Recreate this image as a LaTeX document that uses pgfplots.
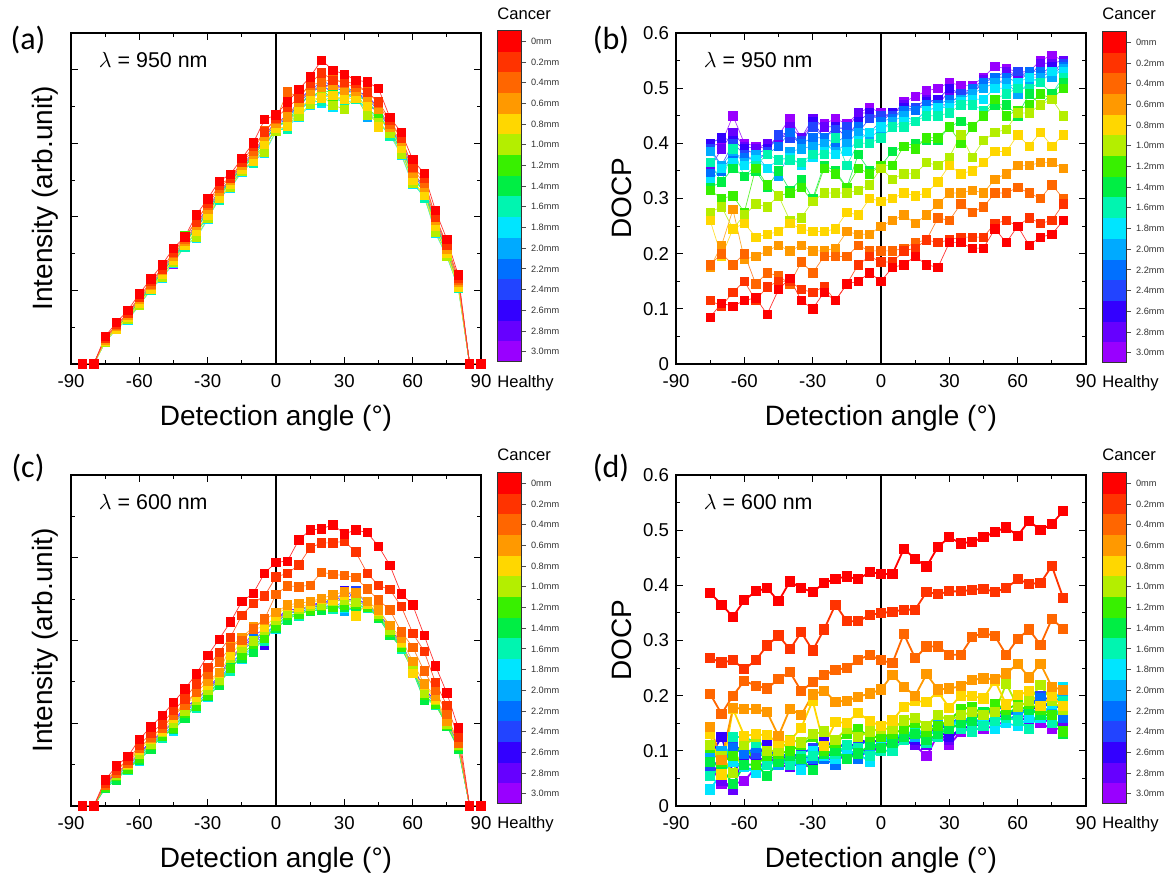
\documentclass[border=0pt]{standalone}
\usepackage{pgfplots}
\pgfplotsset{compat=1.18}
\usepackage{pgfplotstable}
\usepackage{fontspec}
\setmainfont{Liberation Sans}
\newfontfamily\calib{Carlito}

\definecolor{c0}{HTML}{FF0000}
\definecolor{c1}{HTML}{FF3300}
\definecolor{c2}{HTML}{FF6600}
\definecolor{c3}{HTML}{FF9900}
\definecolor{c4}{HTML}{FFD700}
\definecolor{c5}{HTML}{B4EE00}
\definecolor{c6}{HTML}{38F000}
\definecolor{c7}{HTML}{00EE44}
\definecolor{c8}{HTML}{00F5B0}
\definecolor{c9}{HTML}{00E5FF}
\definecolor{c10}{HTML}{00AAFF}
\definecolor{c11}{HTML}{0070FF}
\definecolor{c12}{HTML}{2244FF}
\definecolor{c13}{HTML}{3300FF}
\definecolor{c14}{HTML}{6600FF}
\definecolor{c15}{HTML}{9900FF}

% Panel (a): lambda = 950 nm, intensity
\pgfplotstableread{
x s0 s1 s2 s3 s4 s5 s6 s7 s8 s9 s10 s11 s12 s13 s14 s15
-85 0 0 0 0 0 0 0 0 0 0 0 0 0 0 0 0
-80 0 0 0 0 0 0 0 0 0 0 0 0 0 0 0 0
-75 .75 .70 .69 .66 .62 .59 .62 .64 .60 .59 .62 .65 .65 .67 .65 .66
-70 1.13 1.08 1.05 1.02 .96 .97 1.01 .99 .95 .96 1.00 1.03 1.01 1.02 1.04 1.02
-65 1.46 1.38 1.39 1.34 1.28 1.21 1.26 1.31 1.27 1.20 1.24 1.30 1.33 1.35 1.29 1.35
-60 1.91 1.82 1.81 1.75 1.65 1.61 1.67 1.70 1.62 1.59 1.65 1.72 1.73 1.76 1.72 1.75
-55 2.31 2.24 2.18 2.14 2.03 2.05 2.11 2.08 2.00 2.03 2.09 2.15 2.11 2.14 2.17 2.12
-50 2.70 2.59 2.61 2.54 2.45 2.35 2.41 2.50 2.43 2.33 2.40 2.48 2.53 2.56 2.46 2.56
-45 3.15 3.04 3.02 2.94 2.82 2.76 2.84 2.88 2.78 2.74 2.82 2.90 2.92 2.96 2.90 2.71
-40 3.46 3.47 3.40 3.34 3.22 3.24 3.50 3.27 3.19 3.22 3.29 3.36 3.31 3.34 3.38 3.33
-35 4.05 3.87 3.90 3.78 3.62 3.45 3.56 3.70 3.59 3.42 3.53 3.67 3.76 3.81 3.64 3.81
-30 4.49 4.36 4.33 4.22 4.04 3.96 4.07 4.13 3.99 3.93 4.04 4.16 4.19 4.25 4.16 4.22
-25 4.97 4.87 4.77 4.69 4.51 4.54 4.64 4.59 4.46 4.51 4.61 4.72 4.64 4.69 4.74 4.67
-20 5.16 5.05 5.07 5.00 4.90 4.80 4.87 4.95 4.88 4.78 4.85 4.93 4.98 5.02 4.92 5.02
-15 5.59 5.49 5.48 5.40 5.29 5.24 5.31 5.35 5.25 5.22 5.29 5.37 5.38 5.42 5.37 5.40
-10 6.01 5.91 5.80 5.71 5.52 5.55 5.66 5.60 5.47 5.52 5.63 5.74 5.66 5.71 5.77 5.69
-5 6.65 6.31 6.34 6.20 5.98 5.77 5.91 6.09 5.95 5.73 5.87 6.05 6.16 6.23 6.02 6.23
0 6.77 6.68 6.65 6.56 6.41 6.34 6.44 6.49 6.37 6.32 6.41 6.51 6.53 6.58 6.51 6.56
5 7.13 6.98 7.40 6.72 6.46 6.50 6.64 6.57 6.38 6.46 6.61 6.75 6.64 6.72 6.79 6.68
10 7.46 7.22 7.26 7.13 6.94 6.75 6.88 7.04 6.91 6.72 6.85 7.00 7.10 7.16 6.97 7.16
15 7.81 7.63 7.59 7.43 7.19 7.07 7.23 7.31 7.11 7.03 7.19 7.35 7.39 7.47 7.35 7.43
20 8.26 7.92 7.65 7.53 7.24 7.29 7.45 7.37 7.16 7.08 7.41 7.57 7.72 7.53 7.61 7.49
25 7.99 7.72 7.76 7.58 7.31 7.04 7.22 7.45 7.26 6.99 7.17 7.40 7.54 7.63 7.35 7.63
30 7.88 7.67 7.63 7.45 7.19 6.93 7.23 7.32 7.10 7.67 7.19 7.37 7.41 7.50 7.37 7.45
35 7.72 7.63 7.52 7.43 7.24 7.27 7.38 7.32 7.19 7.24 7.35 7.46 7.38 7.43 7.49 7.41
40 7.67 7.38 7.43 7.26 7.01 6.76 6.93 7.14 6.97 6.89 6.72 7.09 7.22 7.30 7.05 7.30
45 7.49 7.13 7.09 6.93 6.45 6.57 6.73 6.81 6.61 6.53 6.69 6.85 6.89 6.97 6.85 6.93
50 6.70 6.63 6.52 6.43 6.66 6.27 6.38 6.32 6.19 6.24 6.35 6.46 6.38 6.43 6.49 6.41
55 6.30 6.14 6.17 6.05 5.88 5.71 5.82 5.97 5.85 5.68 5.79 5.94 6.02 6.08 5.91 6.08
60 5.56 5.36 5.32 5.20 5.01 4.91 5.04 5.10 4.95 4.88 5.01 5.14 5.17 5.23 5.14 5.20
65 5.18 5.04 4.91 4.81 4.59 4.62 4.75 4.68 4.52 4.59 4.72 4.84 4.75 4.81 4.88 4.78
70 4.17 3.99 4.02 3.91 3.74 3.58 3.69 3.83 3.72 3.55 3.66 3.80 3.88 3.94 3.77 3.94
75 3.39 3.24 3.22 3.13 3.01 2.94 3.03 3.07 2.96 2.92 3.01 3.09 3.11 3.15 3.09 3.13
80 2.42 2.34 2.27 2.22 2.09 2.11 2.18 2.15 2.06 2.09 2.16 2.24 2.18 2.22 2.25 2.20
85 0 0 0 0 0 0 0 0 0 0 0 0 0 0 0 0
90 0 0 0 0 0 0 0 0 0 0 0 0 0 0 0 0
}\tabA

% Panel (c): lambda = 600 nm, intensity
\pgfplotstableread{
x s0 s1 s2 s3 s4 s5 s6 s7 s8 s9 s10 s11 s12 s13 s14 s15
-85 0 0 0 0 0 0 0 0 0 0 0 0 0 0 0 0
-80 0 0 0 0 0 0 0 0 0 0 0 0 0 0 0 0
-75 .63 .55 .51 .58 .55 .50 .45 .43 .47 .42 .46 .48 .49 .51 .50 .52
-70 .97 .87 .79 .91 .90 .75 .72 .63 .70 .68 .66 .79 .73 .84 .81 .77
-65 1.20 1.11 1.03 1.10 1.02 .99 .90 .91 .87 .92 .95 .91 .99 .97 1.01 .98
-60 1.61 1.47 1.39 1.41 1.35 1.25 1.15 1.11 1.19 1.09 1.17 1.21 1.23 1.27 1.25 1.29
-55 1.91 1.75 1.67 1.64 1.62 1.49 1.46 1.38 1.45 1.43 1.41 1.53 1.48 1.57 1.54 1.51
-50 2.19 1.99 1.87 1.90 1.81 1.78 1.68 1.69 1.65 1.71 1.74 1.69 1.78 1.75 1.80 1.77
-45 2.50 2.31 2.19 2.21 2.13 2.01 1.89 1.85 1.94 1.82 1.92 1.97 1.99 2.04 2.01 2.06
-40 2.83 2.59 2.43 2.50 2.48 2.29 2.24 2.12 2.21 2.19 2.17 2.33 2.26 2.41 2.36 2.31
-35 3.19 2.95 2.75 2.75 2.62 2.57 2.41 2.44 2.37 2.46 2.50 2.44 2.57 2.53 2.59 2.55
-30 3.64 3.35 3.19 3.01 2.93 2.81 2.69 2.65 2.74 2.62 2.72 2.77 2.79 2.84 2.81 2.86
-25 4.03 3.72 3.48 3.23 3.21 3.05 3.01 2.91 2.99 2.97 2.95 3.09 3.03 3.15 3.11 3.07
-20 4.45 4.08 3.84 3.85 3.64 3.57 3.33 3.36 3.26 3.40 3.47 3.36 3.57 3.50 3.61 3.54
-15 4.94 4.61 4.01 4.07 3.97 3.81 3.65 3.58 3.71 3.55 3.68 3.74 3.78 3.84 3.81 3.87
-10 5.14 4.90 4.28 4.33 4.29 3.99 3.91 3.73 3.88 3.84 3.80 4.06 3.95 4.18 4.10 4.03
-5 5.63 5.08 4.52 4.50 4.32 4.26 4.05 4.08 3.99 4.11 4.17 4.08 4.26 3.88 4.29 4.23
0 5.89 5.54 5.12 4.68 4.60 4.48 4.35 4.30 4.40 4.28 4.38 4.43 4.45 4.50 4.48 4.53
5 5.92 5.62 5.32 4.86 4.83 4.65 4.61 4.50 4.59 4.56 4.54 4.70 4.63 4.77 4.72 4.68
10 6.43 5.83 5.30 4.90 4.80 4.76 4.64 4.66 4.60 4.67 4.71 4.66 4.76 4.73 4.78 4.74
15 6.67 6.24 5.34 4.94 4.89 4.82 4.74 4.71 4.77 4.70 4.76 4.79 4.80 4.83 4.82 4.85
20 6.70 6.36 5.65 5.02 5.00 4.86 4.82 4.74 4.81 4.79 4.77 4.89 4.84 4.95 4.91 4.88
25 6.80 6.36 5.60 5.10 4.98 4.94 4.80 4.82 4.76 4.84 4.88 4.82 5.08 4.90 4.96 4.92
30 6.58 6.40 5.57 5.18 5.10 4.98 4.85 4.80 4.90 4.78 4.70 4.93 4.95 5.20 4.98 5.03
35 6.67 6.14 5.52 5.15 4.60 4.93 4.88 4.75 4.85 4.83 4.80 4.98 5.20 5.05 5.00 4.95
40 6.61 5.63 5.25 4.95 4.89 4.87 4.80 4.81 4.78 4.82 4.84 4.81 4.87 4.85 4.88 4.86
45 6.28 5.33 4.98 4.74 4.70 4.64 4.58 4.55 4.60 4.54 4.59 4.61 4.63 4.65 4.64 4.66
50 5.82 5.23 4.74 4.37 4.36 4.24 4.21 4.13 4.19 4.18 4.16 4.27 4.22 4.31 4.28 4.25
55 5.13 4.82 4.21 4.05 3.96 3.93 3.83 3.84 3.80 3.86 3.89 3.84 3.93 3.90 3.95 3.92
60 4.86 4.18 3.84 3.49 3.20 3.37 3.29 3.26 3.32 3.25 3.31 3.35 3.35 3.38 3.37 3.40
65 4.13 3.74 3.27 2.95 2.93 2.73 2.68 2.55 2.65 2.63 2.60 2.78 2.70 2.85 2.80 2.75
70 3.39 2.99 2.79 2.65 2.58 2.55 2.46 2.48 2.44 2.49 2.51 2.48 2.55 2.53 2.56 2.54
75 2.73 2.43 2.23 2.06 2.04 1.99 1.95 1.93 1.97 1.93 1.96 1.98 1.99 2.00 1.99 2.01
80 1.89 1.67 1.51 1.58 1.56 1.46 1.44 1.38 1.43 1.41 1.40 1.49 1.45 1.53 1.50 1.48
85 0 0 0 0 0 0 0 0 0 0 0 0 0 0 0 0
90 0 0 0 0 0 0 0 0 0 0 0 0 0 0 0 0
}\tabC

% Panel (b): lambda = 950 nm, DOCP (one row per series)
\pgfplotstableread{
name -75 -70 -65 -60 -55 -50 -45 -40 -35 -30 -25 -20 -15 -10 -5 0 5 10 15 20 25 30 35 40 45 50 55 60 65 70 75 80
s0 .085 .11 .105 .115 .12 .09 .135 .155 .115 .10 .13 .115 .145 .15 .165 .15 .175 .18 .195 .18 .175 .22 .22 .21 .21 .245 .22 .25 .215 .23 .235 .26
s1 .115 .105 .13 .15 .115 .14 .15 .15 .135 .13 .14 .115 .145 .18 .195 .185 .185 .205 .21 .225 .22 .225 .23 .23 .23 .255 .26 .25 .265 .255 .26 .29
s2 .18 .20 .18 .20 .145 .165 .16 .145 .185 .165 .195 .195 .195 .215 .205 .205 .205 .21 .22 .225 .265 .26 .29 .275 .285 .31 .31 .32 .31 .30 .325 .30
s3 .175 .215 .28 .19 .195 .205 .215 .205 .215 .205 .205 .21 .24 .235 .235 .25 .26 .27 .255 .27 .29 .31 .31 .315 .31 .335 .345 .36 .36 .365 .365 .355
s4 .26 .195 .245 .255 .23 .235 .24 .255 .245 .24 .24 .245 .275 .27 .30 .295 .30 .31 .305 .31 .33 .36 .345 .35 .365 .385 .385 .415 .395 .42 .395 .415
s5 .275 .285 .245 .27 .29 .285 .305 .26 .265 .295 .31 .31 .31 .315 .325 .355 .335 .345 .345 .365 .36 .375 .415 .375 .405 .42 .425 .455 .455 .47 .48 .45
s6 .315 .30 .305 .275 .355 .325 .305 .31 .32 .295 .355 .345 .32 .355 .345 .36 .36 .395 .39 .41 .41 .43 .40 .43 .45 .48 .45 .46 .47 .49 .48 .50
s7 .32 .33 .355 .34 .35 .32 .35 .315 .335 .30 .36 .35 .32 .38 .35 .36 .385 .395 .40 .405 .405 .43 .44 .43 .45 .47 .47 .45 .49 .47 .49 .51
s8 .365 .33 .39 .34 .36 .38 .37 .37 .365 .38 .38 .41 .36 .40 .40 .41 .43 .43 .44 .45 .45 .455 .47 .47 .46 .48 .49 .50 .50 .51 .49 .52
s9 .33 .355 .365 .36 .37 .355 .37 .375 .36 .375 .385 .38 .385 .405 .42 .43 .43 .44 .44 .46 .465 .465 .475 .48 .48 .50 .50 .51 .52 .51 .53 .53
s10 .385 .36 .385 .365 .38 .355 .34 .385 .39 .395 .40 .385 .40 .42 .41 .425 .44 .45 .44 .46 .465 .47 .48 .49 .50 .51 .51 .49 .51 .52 .52 .535
s11 .345 .35 .38 .375 .375 .38 .395 .42 .40 .41 .41 .40 .415 .43 .42 .44 .445 .46 .46 .47 .47 .48 .48 .50 .51 .52 .52 .51 .53 .53 .525 .54
s12 .39 .36 .40 .38 .365 .385 .415 .41 .405 .43 .41 .425 .43 .42 .445 .45 .45 .46 .465 .47 .47 .47 .49 .495 .51 .51 .515 .53 .52 .52 .53 .545
s13 .40 .41 .405 .39 .38 .39 .415 .42 .395 .44 .41 .43 .41 .44 .455 .445 .455 .465 .46 .475 .48 .50 .49 .49 .51 .52 .52 .53 .525 .525 .54 .53
s14 .355 .39 .42 .395 .39 .40 .40 .43 .41 .445 .43 .43 .425 .455 .455 .44 .455 .47 .465 .48 .47 .495 .49 .50 .515 .52 .53 .525 .52 .545 .545 .55
s15 .395 .40 .45 .40 .395 .39 .415 .445 .41 .435 .435 .445 .435 .455 .465 .455 .45 .475 .485 .495 .50 .51 .505 .505 .52 .54 .535 .53 .53 .55 .56 .55
}\rawB
\pgfplotstabletranspose[colnames from=name,input colnames to=x]{\tabB}{\rawB}

% Panel (d): lambda = 600 nm, DOCP (one row per series)
\pgfplotstableread{
name -75 -70 -65 -60 -55 -50 -45 -40 -35 -30 -25 -20 -15 -10 -5 0 5 10 15 20 25 30 35 40 45 50 55 60 65 70 75 80
s0 .386 .365 .343 .373 .389 .395 .371 .407 .395 .388 .404 .412 .416 .411 .424 .421 .420 .466 .448 .434 .470 .487 .476 .479 .487 .497 .505 .490 .517 .500 .511 .535
s1 .268 .260 .264 .248 .264 .291 .309 .284 .315 .282 .320 .365 .335 .335 .346 .350 .352 .356 .356 .388 .384 .389 .389 .392 .394 .388 .395 .411 .403 .404 .435 .377
s2 .203 .167 .200 .227 .218 .213 .230 .243 .208 .225 .237 .247 .250 .265 .274 .264 .259 .312 .268 .289 .289 .274 .274 .306 .314 .308 .274 .303 .320 .292 .339 .321
s3 .143 .083 .178 .176 .176 .170 .127 .176 .165 .202 .209 .189 .191 .198 .204 .211 .238 .216 .200 .239 .211 .213 .217 .229 .231 .230 .240 .258 .233 .258 .216 .210
s4 .130 .057 .176 .127 .130 .128 .115 .118 .142 .191 .109 .152 .151 .169 .154 .145 .155 .180 .190 .189 .207 .178 .200 .199 .195 .227 .184 .201 .208 .181 .199 .181
s5 .11 .09 .06 .11 .125 .10 .10 .12 .115 .13 .135 .12 .14 .125 .135 .14 .14 .155 .16 .145 .165 .155 .165 .17 .165 .17 .222 .18 .19 .22 .19 .175
s6 .105 .08 .09 .115 .075 .09 .095 .10 .11 .125 .10 .115 .13 .14 .125 .125 .13 .14 .15 .135 .145 .155 .175 .18 .165 .185 .175 .185 .185 .175 .165 .135
s7 .08 .07 .04 .075 .075 .055 .08 .09 .085 .065 .095 .10 .085 .095 .11 .105 .115 .125 .13 .12 .13 .14 .15 .155 .17 .175 .165 .18 .175 .165 .165 .13
s8 .055 .07 .125 .125 .115 .075 .085 .075 .09 .09 .10 .095 .11 .105 .09 .10 .10 .12 .135 .115 .125 .15 .14 .135 .145 .155 .16 .155 .14 .17 .15 .19
s9 .03 .06 .08 .07 .06 .075 .08 .09 .065 .10 .09 .085 .10 .095 .08 .11 .13 .125 .14 .13 .135 .14 .16 .14 .16 .14 .15 .145 .16 .16 .185 .215
s10 .09 .10 .08 .07 .065 .08 .075 .085 .07 .095 .10 .09 .11 .10 .095 .12 .125 .13 .125 .14 .15 .145 .16 .155 .155 .16 .155 .165 .175 .17 .18 .205
s11 .10 .08 .105 .095 .105 .10 .09 .095 .09 .085 .085 .075 .105 .085 .105 .115 .12 .125 .13 .125 .14 .15 .16 .15 .16 .185 .17 .165 .18 .195 .175 .16
s12 .07 .085 .11 .10 .095 .09 .085 .08 .095 .105 .105 .12 .10 .11 .12 .13 .125 .125 .135 .13 .145 .14 .15 .16 .17 .17 .165 .175 .18 .20 .19 .17
s13 .09 .125 .06 .09 .09 .11 .08 .095 .08 .08 .12 .105 .10 .12 .115 .12 .125 .125 .12 .13 .135 .125 .14 .145 .15 .16 .165 .17 .175 .18 .185 .195
s14 .085 .045 .03 .095 .08 .09 .075 .07 .08 .085 .09 .095 .09 .105 .095 .11 .11 .12 .11 .11 .13 .12 .14 .145 .15 .155 .16 .16 .155 .16 .15 .145
s15 .075 .04 .04 .045 .07 .08 .08 .075 .075 .07 .09 .08 .095 .09 .10 .105 .12 .12 .11 .09 .13 .11 .135 .14 .14 .145 .155 .165 .16 .15 .14 .14
}\rawD
\pgfplotstabletranspose[colnames from=name,input colnames to=x]{\tabD}{\rawD}

\pgfplotsset{
  panel/.style={
    scale only axis, width=205pt, height=165.5pt,
    xmin=-90, xmax=90,
    xtick={-90,-60,-30,0,30,60,90},
    xticklabels={-90,-60,-30,0,30,60,90},
    minor xtick={-75,-45,-15,15,45,75},
    tick align=inside,
    major tick length=3.5pt, minor tick length=2pt,
    tick style={black, line width=0.5pt},
    axis line style={black, line width=0.6pt},
    ticklabel style={font=\fontsize{9.3}{11}\selectfont},
    xticklabel style={yshift=-1.5pt},
    xlabel={Detection angle (°)},
    xlabel style={at={(axis description cs:0.5,-0.163)}, anchor=center, font=\fontsize{14}{16}\selectfont},
    ylabel style={anchor=center, font=\fontsize{14}{16}\selectfont},
  },
  intens/.style={
    ymin=0, ymax=#1,
    ytick={2,4,6,8}, minor ytick={1,3,5,7}, yticklabel=\empty,
    ylabel={Intensity (arb.unit)},
    ylabel style={at={(axis description cs:-0.062,0.5)}},
  },
  docp/.style={
    ymin=0, ymax=0.6,
    ytick={0,0.1,0.2,0.3,0.4,0.5,0.6},
    yticklabels={0,0.1,0.2,0.3,0.4,0.5,0.6},
    minor ytick={0.05,0.15,0.25,0.35,0.45,0.55},
    ylabel={DOCP},
    ylabel style={at={(axis description cs:-0.132,0.5)}},
  },
  cbar/.style={
    scale only axis, width=12pt, height=165.5pt,
    xmin=0, xmax=1, ymin=0, ymax=16,
    xtick=\empty,
    ytick={0.5,1.5,2.5,3.5,4.5,5.5,6.5,7.5,8.5,9.5,10.5,11.5,12.5,13.5,14.5,15.5},
    yticklabels={3.0mm,2.8mm,2.6mm,2.4mm,2.2mm,2.0mm,1.8mm,1.6mm,1.4mm,1.2mm,1.0mm,0.8mm,0.6mm,0.4mm,0.2mm,0mm},
    ytick pos=right, ytick align=outside,
    major tick length=2.5pt,
    tick style={black!70, line width=0.4pt},
    yticklabel style={font=\fontsize{4.6}{5}\selectfont, text=black!80, xshift=-1pt},
    axis line style={black!80, line width=0.5pt},
    axis on top,
  },
}

\newcommand{\cbarfills}{%
  \addplot[draw=none, fill=c0] coordinates {(0,16) (1,16)} \closedcycle;
  \addplot[draw=none, fill=c1] coordinates {(0,15) (1,15)} \closedcycle;
  \addplot[draw=none, fill=c2] coordinates {(0,14) (1,14)} \closedcycle;
  \addplot[draw=none, fill=c3] coordinates {(0,13) (1,13)} \closedcycle;
  \addplot[draw=none, fill=c4] coordinates {(0,12) (1,12)} \closedcycle;
  \addplot[draw=none, fill=c5] coordinates {(0,11) (1,11)} \closedcycle;
  \addplot[draw=none, fill=c6] coordinates {(0,10) (1,10)} \closedcycle;
  \addplot[draw=none, fill=c7] coordinates {(0,9) (1,9)} \closedcycle;
  \addplot[draw=none, fill=c8] coordinates {(0,8) (1,8)} \closedcycle;
  \addplot[draw=none, fill=c9] coordinates {(0,7) (1,7)} \closedcycle;
  \addplot[draw=none, fill=c10] coordinates {(0,6) (1,6)} \closedcycle;
  \addplot[draw=none, fill=c11] coordinates {(0,5) (1,5)} \closedcycle;
  \addplot[draw=none, fill=c12] coordinates {(0,4) (1,4)} \closedcycle;
  \addplot[draw=none, fill=c13] coordinates {(0,3) (1,3)} \closedcycle;
  \addplot[draw=none, fill=c14] coordinates {(0,2) (1,2)} \closedcycle;
  \addplot[draw=none, fill=c15] coordinates {(0,1) (1,1)} \closedcycle;
}

\begin{document}
\begin{tikzpicture}
\useasboundingbox (0,0) rectangle (586pt,441pt);

% ---------- (a)
\begin{axis}[panel, intens=9, at={(35.5pt,259pt)}, anchor=south west]
\pgfplotsinvokeforeach{15,14,...,0}{
  \addplot[color=c#1!80, line width=0.35pt, mark=square*, mark size=2.1pt,
    mark options={fill=c#1, draw=c#1}] table[x=x, y=s#1] {\tabA};
}
\draw[black, line width=0.6pt] (axis cs:0,0) -- (axis cs:0,9);
\node[anchor=west, font=\fontsize{10.7}{12}\selectfont] at (rel axis cs:0.051,0.918) {$\lambda$ = 950 nm};
\end{axis}
\begin{axis}[cbar, at={(248.5pt,260pt)}, anchor=south west]
\cbarfills
\end{axis}

% ---------- (b)
\begin{axis}[panel, docp, at={(338pt,259pt)}, anchor=south west]
\pgfplotsinvokeforeach{15,14,...,0}{
  \addplot[color=c#1!80, line width=0.35pt, mark=square*, mark size=2.1pt,
    mark options={fill=c#1, draw=c#1}] table[x=x, y=s#1] {\tabB};
}
\draw[black, line width=0.6pt] (axis cs:0,0) -- (axis cs:0,0.6);
\node[anchor=west, font=\fontsize{10.7}{12}\selectfont] at (rel axis cs:0.051,0.918) {$\lambda$ = 950 nm};
\end{axis}
\begin{axis}[cbar, at={(551pt,259.5pt)}, anchor=south west]
\cbarfills
\end{axis}

% ---------- (c)
\begin{axis}[panel, intens=8, at={(35.5pt,38pt)}, anchor=south west]
\pgfplotsinvokeforeach{15,14,...,0}{
  \addplot[color=c#1!80, line width=0.35pt, mark=square*, mark size=2.1pt,
    mark options={fill=c#1, draw=c#1}] table[x=x, y=s#1] {\tabC};
}
\draw[black, line width=0.6pt] (axis cs:0,0) -- (axis cs:0,8);
\node[anchor=west, font=\fontsize{10.7}{12}\selectfont] at (rel axis cs:0.051,0.918) {$\lambda$ = 600 nm};
\end{axis}
\begin{axis}[cbar, at={(248.5pt,39pt)}, anchor=south west]
\cbarfills
\end{axis}

% ---------- (d)
\begin{axis}[panel, docp, at={(338pt,38pt)}, anchor=south west]
\pgfplotsinvokeforeach{15,14,...,0}{
  \addplot[color=c#1, line width=0.9pt, mark=square*, mark size=2.1pt,
    mark options={fill=c#1, draw=c#1}] table[x=x, y=s#1] {\tabD};
}
\draw[black, line width=0.6pt] (axis cs:0,0) -- (axis cs:0,0.6);
\node[anchor=west, font=\fontsize{10.7}{12}\selectfont] at (rel axis cs:0.051,0.918) {$\lambda$ = 600 nm};
\end{axis}
\begin{axis}[cbar, at={(551pt,39pt)}, anchor=south west]
\cbarfills
\end{axis}

% panel letters and colorbar captions
\node[font=\calib\fontsize{16}{18}\selectfont] at (14pt,421pt) {(a)};
\node[font=\calib\fontsize{16}{18}\selectfont] at (305.5pt,421pt) {(b)};
\node[font=\calib\fontsize{16}{18}\selectfont] at (14pt,207pt) {(c)};
\node[font=\calib\fontsize{16}{18}\selectfont] at (305.5pt,207pt) {(d)};

\foreach \cx in {248.5pt,551pt}{
  \node[anchor=base west, inner sep=0, font=\fontsize{8.3}{10}\selectfont] at (\cx,431pt) {Cancer};
  \node[anchor=base west, inner sep=0, font=\fontsize{8.3}{10}\selectfont] at (\cx,247pt) {Healthy};
  \node[anchor=base west, inner sep=0, font=\fontsize{8.3}{10}\selectfont] at (\cx,210.5pt) {Cancer};
  \node[anchor=base west, inner sep=0, font=\fontsize{8.3}{10}\selectfont] at (\cx,26.5pt) {Healthy};
}
\end{tikzpicture}
\end{document}
